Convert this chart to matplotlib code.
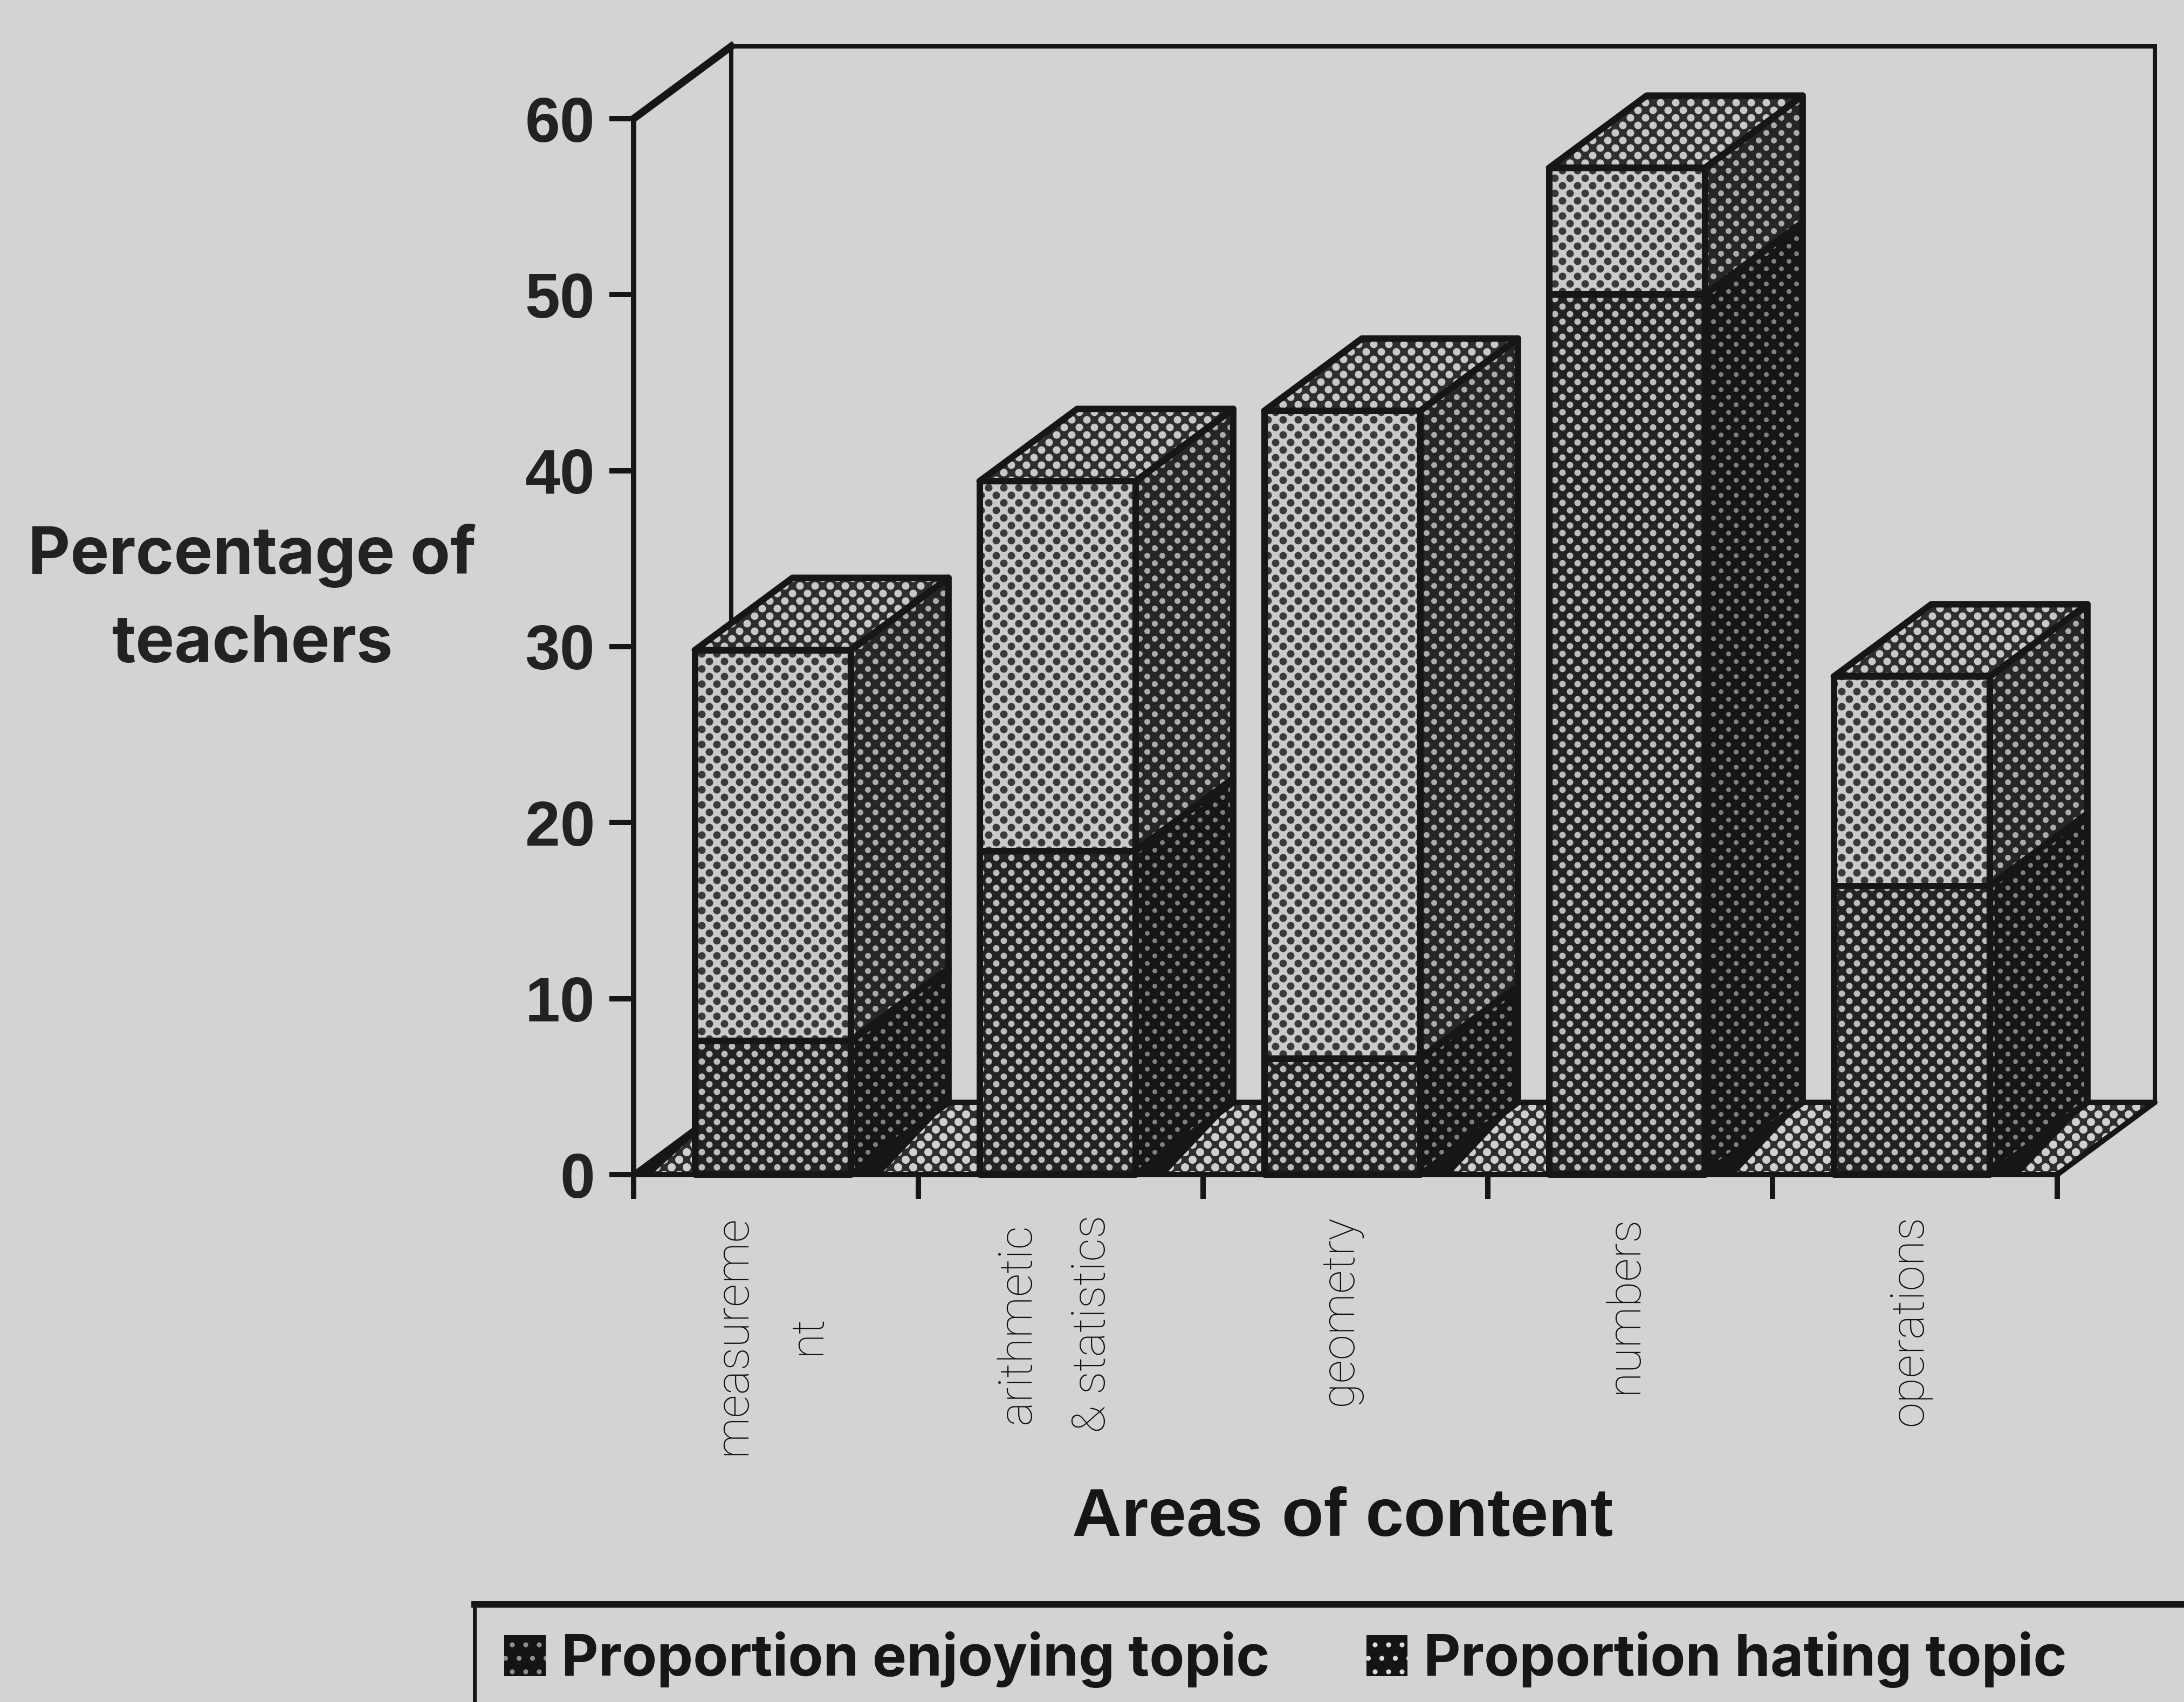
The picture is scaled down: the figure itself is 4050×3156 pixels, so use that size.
import numpy as np
import matplotlib
matplotlib.use("Agg")
import matplotlib.pyplot as plt
from matplotlib.lines import Line2D
from matplotlib.patches import Patch, Polygon

# 数据
areas = ["measureme\nnt", "arithmetic\n& statistics", "geometry", "numbers", "operations"]
enjoying = [7.6, 18.4, 6.6, 50.0, 16.4]
hating = [22.2, 21.0, 36.8, 7.2, 11.9]
y_ticks = [0, 10, 20, 30, 40, 50, 60]
legend_labels = ["Proportion enjoying topic", "Proportion hating topic"]

# 画布
W, H = 4050, 3156
DPI = 300
BG = "#d3d3d3"
INK = "#161616"
px = 72 / DPI  # 1 pixel in points
WIDE = ["Inter", "Liberation Sans", "DejaVu Sans"]

plt.rcParams["font.family"] = ["Liberation Sans", "DejaVu Sans"]

fig = plt.figure(figsize=(W / DPI, H / DPI), dpi=DPI, facecolor=BG)
ax = fig.add_axes([1175 / W, 1 - 2178 / H, 2640 / W, 1958 / H])
ax.set_xlim(0, 5)
ax.set_ylim(0, 60)
ax.patch.set_visible(False)

# 3D depth and bar geometry, in axis units
depth_x = 181 / 528
depth_y = 134 / 32.63
bar_w = 0.548
inset = 0.215
pitch_x = 28 / 528
pitch_y = 14 / 32.63
shadow_bar = 55 / 528
shadow_floor = 33 / 528


def halftone(verts, bg, dot, d, z, lw=12):
    """Polygon filled with a diagonal dot screen, with a black outline on top."""
    verts = np.array(verts)
    base = Polygon(verts, closed=True, fc=bg, ec="none", zorder=z, clip_on=False)
    ax.add_patch(base)
    r0 = int(verts[:, 1].min() / pitch_y) - 1
    r1 = int(verts[:, 1].max() / pitch_y) + 2
    c0 = int(verts[:, 0].min() / pitch_x) - 1
    c1 = int(verts[:, 0].max() / pitch_x) + 2
    xs, ys = [], []
    for r in range(r0, r1):
        for c in range(c0, c1):
            xs.append((c + 0.5 * (r % 2)) * pitch_x)
            ys.append(r * pitch_y)
    dots = ax.scatter(xs, ys, s=(d * px) ** 2, c=dot, linewidths=0, zorder=z + 0.1)
    dots.set_clip_path(base)
    ax.add_patch(Polygon(verts, closed=True, fc="none", ec=INK, lw=lw * px,
                         joinstyle="round", zorder=z + 0.2, clip_on=False))


# back wall
wall = Polygon([(depth_x, depth_y), (depth_x, 60 + depth_y), (5 + depth_x, 60 + depth_y),
                (5 + depth_x, depth_y)], closed=True, fc="none", ec=INK, lw=8 * px,
               joinstyle="miter", zorder=1, clip_on=False)
ax.add_patch(wall)
ax.plot([0, depth_x], [60, 60 + depth_y], color=INK, lw=14 * px, zorder=1, clip_on=False)

# floor, with the heavy wedge along its left edge
halftone([(0, 0), (5, 0), (5 + depth_x, depth_y), (depth_x, depth_y)],
         "#2e2e2e", "#cfcfcf", 15, 2, lw=10)
ax.add_patch(Polygon([(0, 0), (shadow_floor, 0), (depth_x, depth_y)], closed=True,
                     fc=INK, ec="none", zorder=2.5, clip_on=False))

# bars, left to right so each one covers the floor behind it
for i in range(len(areas)):
    z = 5 + i
    x0 = i + inset
    x1 = x0 + bar_w
    e = enjoying[i]
    t = enjoying[i] + hating[i]
    # enjoying part
    halftone([(x0, 0), (x1, 0), (x1, e), (x0, e)], "#232323", "#bcbcbc", 12, z)
    halftone([(x1, 0), (x1 + depth_x, depth_y), (x1 + depth_x, e + depth_y), (x1, e)],
             "#161616", "#808080", 9, z)
    ax.add_patch(Polygon([(x1, 0), (x1 + shadow_bar, 0), (x1 + depth_x, depth_y)], closed=True,
                         fc=INK, ec="none", zorder=z + 0.3, clip_on=False))
    # hating part
    halftone([(x0, e), (x1, e), (x1, t), (x0, t)], "#cacaca", "#3a3a3a", 14, z)
    halftone([(x1, e), (x1 + depth_x, e + depth_y), (x1 + depth_x, t + depth_y), (x1, t)],
             "#262626", "#ababab", 11, z)
    # top
    halftone([(x0, t), (x1, t), (x1 + depth_x, t + depth_y), (x0 + depth_x, t + depth_y)],
             "#2e2e2e", "#c8c8c8", 14, z)

# 坐标轴
for s in ["top", "right"]:
    ax.spines[s].set_visible(False)
for s in ["left", "bottom"]:
    ax.spines[s].set_linewidth(10 * px)
    ax.spines[s].set_color(INK)
    ax.spines[s].set_zorder(20)

ax.set_yticks(y_ticks)
ax.tick_params(axis="y", length=45 * px, width=10 * px, color=INK, pad=27 * px,
               labelsize=28, labelcolor="#222222")
for t in ax.get_yticklabels():
    t.set_fontweight("bold")

ax.set_xticks(range(6))
ax.set_xticklabels([])
ax.tick_params(axis="x", which="major", length=45 * px, width=10 * px, color=INK)
ax.set_xticks(np.arange(len(areas)) + 0.48, minor=True)
ax.set_xticklabels(areas, minor=True, rotation=90, va="top", ha="center", ma="center",
                   family=["Roboto", "DejaVu Sans"], fontweight="light", fontsize=20.5,
                   color="#111111", linespacing=1.9)
ax.tick_params(axis="x", which="minor", length=0, pad=75 * px)

ax.set_xlabel("Areas of content", fontsize=30.5, fontweight="bold", color=INK)
ax.xaxis.set_label_coords((2490 - 1175) / 2640, (2178 - 2815) / 1958)
ax.xaxis.label.set_va("center")
ax.set_ylabel("Percentage of\nteachers", rotation=0, family=WIDE, fontsize=29,
              fontweight="bold", color="#222222", ha="center", va="center", linespacing=1.56)
ax.yaxis.set_label_coords((468 - 1175) / 2640, (2178 - 1112) / 1958)

# 图例: frame runs off the canvas on the right and bottom
frame_left = 880 / W
frame_top = 1 - 2975 / H
fig.add_artist(Line2D([frame_left, 1], [frame_top, frame_top], color=INK, lw=12 * px))
fig.add_artist(Line2D([frame_left, frame_left], [0, frame_top], color=INK, lw=7 * px))
handles = [Patch(facecolor="#141414", edgecolor="#8f8f8f", hatch="..", lw=0),
           Patch(facecolor="#141414", edgecolor="#dcdcdc", hatch="..", lw=0)]
fig.legend(handles, legend_labels, ncol=2, frameon=False, loc="center left",
           bbox_to_anchor=(882 / W, 1 - 3078 / H),
           prop={"family": WIDE, "weight": "bold", "size": 25.5}, labelcolor=INK,
           handlelength=0.72, handleheight=0.72, handletextpad=0.28,
           columnspacing=1.68, borderpad=0)

fig.savefig("out.png", dpi=DPI, facecolor=BG)
